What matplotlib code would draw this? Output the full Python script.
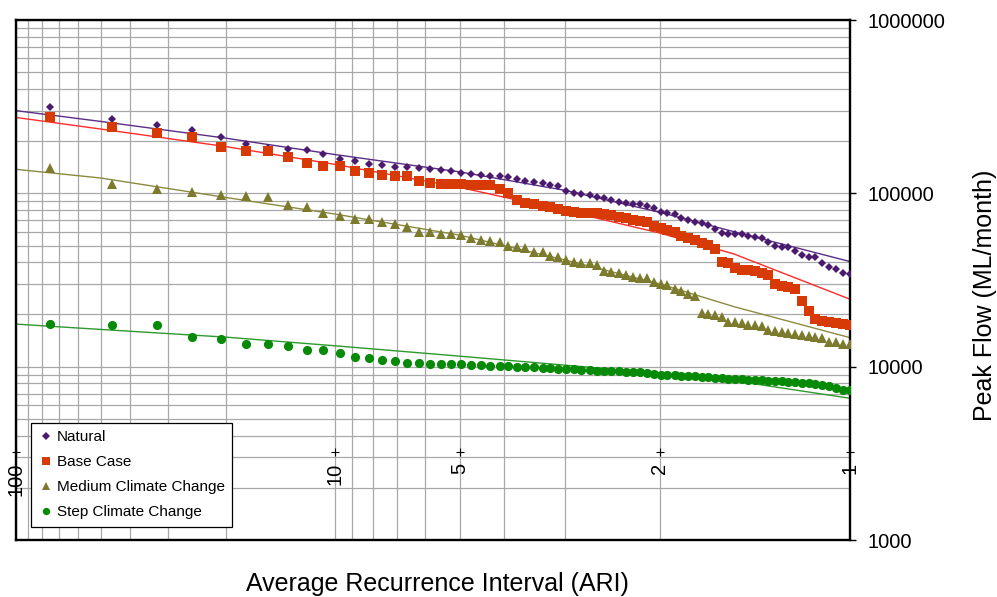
import sys
from statistics import NormalDist

import matplotlib
if "ipykernel" not in sys.modules:
    matplotlib.use("Agg")

import numpy as np
import matplotlib.pyplot as plt
from matplotlib.ticker import FixedLocator, LogLocator, NullLocator, NullFormatter

plt.rcParams["font.family"] = ["Liberation Sans", "DejaVu Sans"]

# ranked ARI (years) shared by all four series
ari = [75.3, 45.6, 32.6, 25.4, 20.7, 17.5, 15.1, 13.3, 11.8, 10.7,
       9.70, 8.88, 8.19, 7.59, 7.07, 6.61, 6.20, 5.84, 5.51, 5.22,
       4.95, 4.71, 4.49, 4.28, 4.09, 3.92, 3.76, 3.61, 3.47, 3.33,
       3.21, 3.10, 2.99, 2.88, 2.79, 2.69, 2.61, 2.53, 2.45, 2.37,
       2.30, 2.23, 2.17, 2.11, 2.05, 1.99, 1.94, 1.885, 1.834, 1.786,
       1.740, 1.695, 1.652, 1.610, 1.570, 1.531, 1.493, 1.457, 1.422, 1.388,
       1.355, 1.323, 1.292, 1.261, 1.232, 1.203, 1.176, 1.148, 1.122, 1.096,
       1.071, 1.047, 1.023, 1.000]

# peak flows, ML/month (thousands)
natural = [316, 267, 247, 231, 211, 193, 182, 180, 179, 168.6,
           157, 154, 147.7, 145.7, 142.4, 141.3, 139.4, 137.6, 136.3, 134.5,
           130.5, 130, 127.6, 126.4, 126, 123.7, 120.5, 117.8, 116.3, 114.3,
           111.7, 110.7, 103.6, 100.8, 99.1, 97.4, 94.9, 93.6, 91.5, 89.5,
           88.3, 86.8, 86.5, 84.5, 82.0, 78.0, 77.3, 76.0, 71.8, 70.2,
           68.1, 67.2, 65.7, 62.3, 58.8, 58.6, 58.2, 57.9, 56.9, 56.2,
           55.0, 52.6, 49.7, 49.2, 49.0, 46.5, 44.1, 43.1, 42.8, 39.8,
           37.7, 36.4, 34.6, 34.4]
base_case = [274, 241, 222, 211, 186, 176, 175, 163, 150, 143.8,
             143.5, 135.1, 130.5, 127.6, 126.4, 125.9, 118.3, 114.3, 113.2, 113,
             112.5, 112, 111.5, 111, 105.5, 100.8, 91.5, 88.3, 86.8, 84.5,
             83.0, 80.9, 79.4, 78.3, 77.5, 77.0, 76.5, 76.0, 74.8, 73.2,
             71.9, 70.3, 69.3, 68.3, 64.8, 63.1, 61.5, 59.8, 56.7, 55.2,
             53.8, 51.7, 50.3, 47.7, 39.9, 39.6, 37.1, 36.3, 36.0, 35.7,
             34.5, 33.8, 30.0, 29.2, 28.8, 28.1, 23.8, 21.0, 18.8, 18.4,
             18.2, 17.9, 17.7, 17.5]
medium = [140.6, 113.2, 105.9, 101.8, 97.4, 96.5, 94.9, 85.6, 83.7, 76.7,
          74.0, 71.4, 70.8, 68.3, 66.3, 64.2, 60.1, 59.6, 58.5, 58.0,
          57.8, 55.0, 53.8, 53.3, 52.4, 49.7, 48.8, 48.2, 45.9, 45.7,
          43.5, 42.8, 41.1, 40.2, 39.8, 39.5, 38.5, 35.8, 35.0, 34.6,
          33.7, 32.8, 32.6, 32.3, 30.7, 30.0, 29.6, 27.9, 27.4, 26.3,
          25.7, 20.3, 20.1, 19.9, 19.3, 18.2, 18.1, 17.9, 17.5, 17.3,
          17.2, 16.3, 16.1, 15.9, 15.6, 15.4, 15.3, 15.1, 14.9, 14.6,
          13.9, 13.8, 13.6, 13.5]
step = [17.6, 17.5, 17.3, 14.8, 14.5, 13.6, 13.5, 13.2, 12.5, 12.4,
        11.95, 11.3, 11.2, 10.9, 10.8, 10.5, 10.45, 10.4, 10.4, 10.35,
        10.3, 10.25, 10.2, 10.15, 10.1, 10.05, 10.0, 9.95, 9.9, 9.82,
        9.79, 9.74, 9.69, 9.65, 9.56, 9.52, 9.47, 9.44, 9.42, 9.39,
        9.35, 9.31, 9.27, 9.19, 9.03, 8.98, 8.95, 8.91, 8.87, 8.83,
        8.79, 8.74, 8.68, 8.60, 8.57, 8.52, 8.49, 8.45, 8.40, 8.37,
        8.33, 8.29, 8.27, 8.23, 8.19, 8.15, 8.08, 8.01, 7.94, 7.87,
        7.73, 7.50, 7.34, 7.32]

# fitted curves (thousands)
fit_ari = [100, 50, 20, 10, 5, 3, 2, 1.5, 1]
natural_fit = [300, 260, 208, 167.5, 133, 104, 77.7, 60.1, 40.4]
base_fit = [274, 235, 186, 147, 108.3, 79.4, 59.0, 44.7, 24.5]
medium_fit = [137.6, 122.6, 94.6, 76.0, 57.4, 41.2, 30.0, 22.2, 14.7]
step_fit = [17.6, 16.4, 14.8, 13.2, 11.5, 10.2, 9.16, 8.30, 6.57]

# in-plot ARI labels and vertical gridlines
label_ari = [100, 10, 5, 2, 1]
label_text = ["100", "10", "5", "2", "1"]
label_flow = 3200
grid_ari = [100, 90, 80, 70, 60, 50, 40, 30, 20, 10, 9, 8, 7, 6, 5, 4, 3, 2, 1]

_nd = NormalDist()
_inv = np.vectorize(_nd.inv_cdf, otypes=[float])
_cdf = np.vectorize(_nd.cdf, otypes=[float])


def ari_to_z(t):
    t = np.clip(np.asarray(t, dtype=float), 1e-3, 1e9)
    p = np.clip(np.exp(-1.0 / t), 1e-12, 1 - 1e-12)
    return _inv(p)


def z_to_ari(z):
    z = np.clip(np.asarray(z, dtype=float), -7, 7)
    p = np.clip(_cdf(z), 1e-300, 1 - 1e-15)
    return -1.0 / np.log(p)


k = lambda vals: [v * 1000 for v in vals]

fig = plt.figure(figsize=(9.97, 5.97), dpi=100)
ax = fig.add_axes([16 / 997, 1 - 540 / 597, 834 / 997, 520 / 597])
ax.set_xscale("function", functions=(ari_to_z, z_to_ari))
ax.set_yscale("log")

purple, red, olive, green = "#4a1a6e", "#d83a06", "#7c7a2c", "#078a07"

ax.plot(fit_ari, k(natural_fit), color="#5b2d86", lw=1.0, zorder=2)
ax.plot(fit_ari, k(base_fit), color="#ff2a2a", lw=1.0, zorder=2)
ax.plot(fit_ari, k(medium_fit), color="#8c8a40", lw=1.0, zorder=2)
ax.plot(fit_ari, k(step_fit), color="#2e9a2e", lw=1.0, zorder=2)

ax.plot(ari, k(natural), "D", ms=4.5, color=purple, mew=0, label="Natural", zorder=3)
ax.plot(ari, k(base_case), "s", ms=6.6, color=red, mew=0, label="Base Case", zorder=3)
ax.plot(ari, k(medium), "^", ms=7.2, color=olive, mew=0, label="Medium Climate Change", zorder=3)
ax.plot(ari, k(step), "o", ms=6.6, color=green, mew=0, label="Step Climate Change", zorder=3)

ax.plot(label_ari, [label_flow] * len(label_ari), "+", color="black", ms=6, mew=0.8,
        clip_on=False, zorder=4)
for t, s in zip(label_ari, label_text):
    ax.annotate(s, (t, label_flow), xytext=(0, -7.5), textcoords="offset points",
                rotation=90, ha="center", va="top", fontsize=14.5, annotation_clip=False)

ax.set_xlim(100, 1)
ax.set_ylim(1000, 1e6)

ax.xaxis.set_major_locator(FixedLocator(grid_ari))
ax.xaxis.set_minor_locator(NullLocator())
ax.tick_params(axis="x", length=0, labelbottom=False)

ax.yaxis.tick_right()
ax.set_yticks([1e3, 1e4, 1e5, 1e6])
ax.set_yticklabels(["1000", "10000", "100000", "1000000"])
ax.yaxis.set_minor_locator(LogLocator(base=10, subs=np.arange(2, 10)))
ax.yaxis.set_minor_formatter(NullFormatter())
ax.tick_params(axis="y", which="major", length=4, width=1, pad=8.5, labelsize=14.5)
ax.tick_params(axis="y", which="minor", length=0)

ax.grid(True, which="both", color="#a8a8a8", lw=0.9)
ax.set_axisbelow(True)
for sp in ax.spines.values():
    sp.set_linewidth(1.7)
    sp.set_color("black")

leg = ax.legend(loc="upper left", bbox_to_anchor=(30.7 / 997, 1 - 422.7 / 597),
                bbox_transform=fig.transFigure, frameon=True, fancybox=False,
                edgecolor="black", framealpha=1, borderaxespad=0, borderpad=0.5,
                handlelength=1.0, handletextpad=0.2, labelspacing=0.72,
                markerscale=0.8, fontsize=11)
leg.get_frame().set_linewidth(0.9)
leg.set_zorder(5)

fig.text(437 / 997, 1 - 584 / 597, "Average Recurrence Interval (ARI)",
         ha="center", va="center", fontsize=18)
fig.text(985 / 997, 1 - 295 / 597, "Peak Flow (ML/month)", rotation=90,
         ha="center", va="center", fontsize=18)

fig.savefig("out.png", dpi=100)
plt.close(fig)
